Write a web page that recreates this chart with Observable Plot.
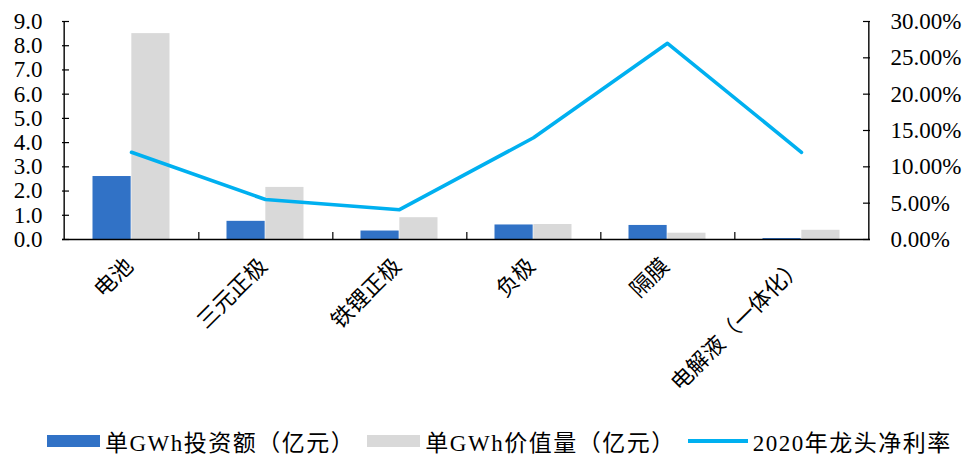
<!DOCTYPE html>
<html>
<head>
<meta charset="utf-8">
<script src="https://cdn.jsdelivr.net/npm/d3@7"></script>
<script src="https://cdn.jsdelivr.net/npm/@observablehq/plot@0.6"></script>
<style>
  html, body { margin: 0; padding: 0; background: #fff; }
  #chart { width: 966px; height: 457px; position: relative; }
  .legend {
    display: flex; align-items: center; height: 32px;
    padding-left: 47px; box-sizing: border-box;
    font-family: "Liberation Serif", "Noto Sans CJK SC", serif;
    font-size: 23px; letter-spacing: 1.5px; color: #000; white-space: nowrap;
  }
  .legend .item { display: flex; align-items: center; margin-right: 12px; }
  .legend .sw { width: 53px; height: 12px; margin-right: 5px; }
  .legend .ln { width: 60px; height: 4px; margin-right: 5px; }
</style>
</head>
<body>
<div id="chart"></div>
<script>
// 产业链环节
const categories = ["电池", "三元正极", "铁锂正极", "负极", "隔膜", "电解液（一体化）"];
// 单GWh投资额（亿元）
const investment = [2.6, 0.75, 0.35, 0.6, 0.58, 0.04];
// 单GWh价值量（亿元）
const valueAmount = [8.5, 2.15, 0.9, 0.62, 0.26, 0.38];
// 2020年龙头净利率（%）
const netMargin = [12.0, 5.5, 4.1, 14.0, 27.0, 12.0];

const seriesNames = ["单GWh投资额（亿元）", "单GWh价值量（亿元）", "2020年龙头净利率"];
const colors = ["#3172C6", "#D9D9D9", "#00B0F0"];

const leftTicks = [0, 1, 2, 3, 4, 5, 6, 7, 8, 9];
const rightTicks = [0, 5, 10, 15, 20, 25, 30];

// the right axis (0–30%) shares the left axis range (0–9)
const leftMax = 9, rightMax = 30;
const ratio = leftMax / rightMax;

const rows = categories.map((c, i) => ({
  cat: c, inv: investment[i], val: valueAmount[i], pct: netMargin[i]
}));

const W = 966, H = 425;
const mL = 62, mR = 96, mT = 21, mB = 186;
const frameW = W - mL - mR, frameH = H - mT - mB;
const band = frameW / categories.length;
const font = '"Liberation Serif", "Noto Sans CJK SC", serif';
const first = categories[0], last = categories[categories.length - 1];

const plot = Plot.plot({
  width: W, height: H,
  marginLeft: mL, marginRight: mR, marginTop: mT, marginBottom: mB,
  style: { fontFamily: font, fontSize: "23px", color: "#000", background: "#fff" },
  x: { type: "band", domain: categories, padding: 0, axis: null },
  y: { domain: [0, leftMax], axis: null },
  marks: [
    // bars: investment on the left half of each band, value on the right half
    Plot.barY(rows, { x: "cat", y: "inv", fill: colors[0], insetLeft: 28.5, insetRight: band / 2 }),
    Plot.barY(rows, { x: "cat", y: "val", fill: colors[1], insetLeft: band / 2, insetRight: 28.5 }),
    // net margin line on the secondary scale
    Plot.lineY(rows, { x: "cat", y: d => d.pct * ratio, stroke: colors[2], strokeWidth: 3.6 }),
    // axis lines at the outer edges of the first and last bands
    Plot.ruleX([first], { x: d => d, dx: -band / 2, stroke: "#000", strokeWidth: 1.4 }),
    Plot.ruleX([last], { x: d => d, dx: band / 2, stroke: "#000", strokeWidth: 1.4 }),
    Plot.ruleY([0], { stroke: "#000", strokeWidth: 1.4 }),
    // inward tick marks
    Plot.tickY(leftTicks, { y: d => d, insetRight: frameW - 7, stroke: "#000", strokeWidth: 1.2 }),
    Plot.tickY(rightTicks, { y: d => d * ratio, insetLeft: frameW - 7, stroke: "#000", strokeWidth: 1.2 }),
    Plot.ruleX(categories.slice(0, -1), { x: d => d, dx: band / 2, insetTop: frameH - 7, stroke: "#000", strokeWidth: 1.2 }),
    // tick labels
    Plot.axisY(leftTicks, { anchor: "left", tickSize: 0, tickPadding: 20, tickFormat: d => d.toFixed(1), fontSize: 23 }),
    Plot.axisY(rightTicks.map(p => p * ratio), { anchor: "right", tickSize: 0, tickPadding: 20,
      tickFormat: d => (d / ratio).toFixed(2) + "%", fontSize: 23 }),
    // rotated category labels
    Plot.text(categories, { x: d => d, frameAnchor: "bottom", dy: 23, dx: -2, rotate: -45,
      textAnchor: "end", lineAnchor: "middle", fontSize: 22, fill: "#000" })
  ]
});

const chart = document.getElementById("chart");
chart.appendChild(plot);

const legend = document.createElement("div");
legend.className = "legend";
seriesNames.forEach((name, i) => {
  const item = document.createElement("div");
  item.className = "item";
  const sw = document.createElement("span");
  sw.className = i === 2 ? "ln" : "sw";
  sw.style.background = colors[i];
  const label = document.createElement("span");
  label.textContent = name;
  item.append(sw, label);
  legend.appendChild(item);
});
chart.appendChild(legend);
</script>
</body>
</html>
